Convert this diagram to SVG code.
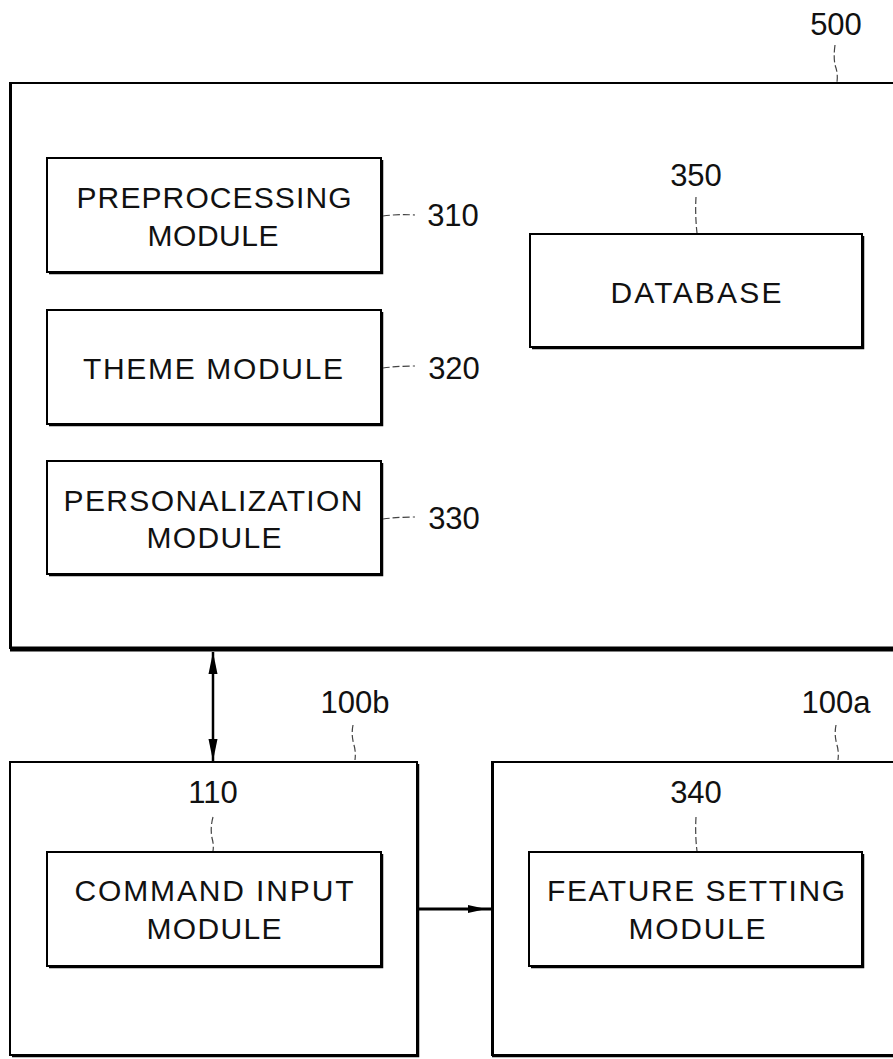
<svg xmlns="http://www.w3.org/2000/svg" width="893" height="1059" viewBox="0 0 893 1059">
<style>
.box{fill:#fff;stroke:#000;stroke-width:2}
.sh{fill:none;stroke:#000;stroke-width:2.5}
.t{font-family:"Liberation Sans",Arial,sans-serif;font-size:30px;fill:#111;text-anchor:middle}
.n{font-family:"Liberation Sans",Arial,sans-serif;font-size:31px;fill:#111;text-anchor:middle}
.ld{fill:none;stroke:#444;stroke-width:1.2;stroke-dasharray:7 3}
</style>
<rect width="893" height="1059" fill="#fff"/>

<g id="n500">
<path d="M900,83 L10,83 L10,648 L900,648" fill="none" stroke="#000" stroke-width="2"/>
<line x1="11" y1="84" x2="11" y2="648" stroke="#000" stroke-width="2"/>
<line x1="10" y1="649" x2="900" y2="649" stroke="#000" stroke-width="5"/>
<text class="n" x="836" y="35">500</text>
<path class="ld" d="M835,45 Q833,60 836,68 Q838,75 837,82"/>
</g>

<g id="n310">
<rect class="box" x="47" y="158" width="334" height="114"/>
<path class="sh" d="M382,160 L382,273 L49,273"/>
<text class="t" x="214" y="208" textLength="275" lengthAdjust="spacing">PREPROCESSING</text>
<text class="t" x="213" y="246" textLength="131" lengthAdjust="spacing">MODULE</text>
<text class="n" x="453" y="226">310</text>
<path class="ld" d="M383,216 Q398,214 415,215"/>
</g>

<g id="n320">
<rect class="box" x="47" y="310" width="334" height="114"/>
<path class="sh" d="M382,312 L382,425 L49,425"/>
<text class="t" x="213" y="379" textLength="260" lengthAdjust="spacing">THEME MODULE</text>
<text class="n" x="454" y="379">320</text>
<path class="ld" d="M383,368 Q398,366 415,366"/>
</g>

<g id="n330">
<rect class="box" x="47" y="461" width="334" height="113"/>
<path class="sh" d="M382,463 L382,575 L49,575"/>
<text class="t" x="213" y="511" textLength="299" lengthAdjust="spacing">PERSONALIZATION</text>
<text class="t" x="214" y="548" textLength="135" lengthAdjust="spacing">MODULE</text>
<text class="n" x="454" y="529">330</text>
<path class="ld" d="M383,519 Q398,517 415,517"/>
</g>

<g id="n350">
<rect class="box" x="530" y="234" width="332" height="113"/>
<path class="sh" d="M863,236 L863,348 L532,348"/>
<text class="t" x="696" y="303" textLength="171" lengthAdjust="spacing">DATABASE</text>
<text class="n" x="696" y="186">350</text>
<path class="ld" d="M696,197 Q695,215 697,233"/>
</g>

<g id="n100b">
<rect class="box" x="10" y="762" width="407" height="293"/>
<path class="sh" d="M418,764 L418,1056 L12,1056"/>
<text class="n" x="355" y="713">100b</text>
<path class="ld" d="M353,725 Q351,735 354,745 Q356,752 355,760"/>
</g>

<g id="n110">
<rect class="box" x="47" y="852" width="334" height="114"/>
<path class="sh" d="M382,854 L382,967 L49,967"/>
<text class="t" x="214" y="901" textLength="279" lengthAdjust="spacing">COMMAND INPUT</text>
<text class="t" x="214" y="939" textLength="135" lengthAdjust="spacing">MODULE</text>
<text class="n" x="213" y="803">110</text>
<path class="ld" d="M213,817 Q210,828 212,838 Q214,845 213,851"/>
</g>

<g id="n100a">
<path d="M900,762 L492,762 L492,1055 L900,1055" fill="#fff" stroke="#000" stroke-width="2"/>
<line x1="493" y1="763" x2="493" y2="1055" stroke="#000" stroke-width="2"/>
<line x1="492" y1="1056" x2="900" y2="1056" stroke="#000" stroke-width="2.5"/>
<text class="n" x="836" y="713">100a</text>
<path class="ld" d="M836,725 Q834,735 837,745 Q839,752 838,760"/>
</g>

<g id="n340">
<rect class="box" x="529" y="852" width="333" height="114"/>
<path class="sh" d="M863,854 L863,967 L531,967"/>
<text class="t" x="696" y="901" textLength="298" lengthAdjust="spacing">FEATURE SETTING</text>
<text class="t" x="697" y="939" textLength="137" lengthAdjust="spacing">MODULE</text>
<text class="n" x="696" y="803">340</text>
<path class="ld" d="M696,817 Q695,835 697,851"/>
</g>

<g id="connectors">
<line x1="213" y1="652" x2="213" y2="762" stroke="#000" stroke-width="2.5"/>
<path d="M213,652 L208.5,674 L217.5,674 Z" fill="#000"/>
<path d="M213,761 L208.5,739 L217.5,739 Z" fill="#000"/>
<line x1="418" y1="909" x2="492" y2="909" stroke="#000" stroke-width="3"/>
<path d="M486,909 L468,905 L468,913 Z" fill="#000"/>
</g>
</svg>
